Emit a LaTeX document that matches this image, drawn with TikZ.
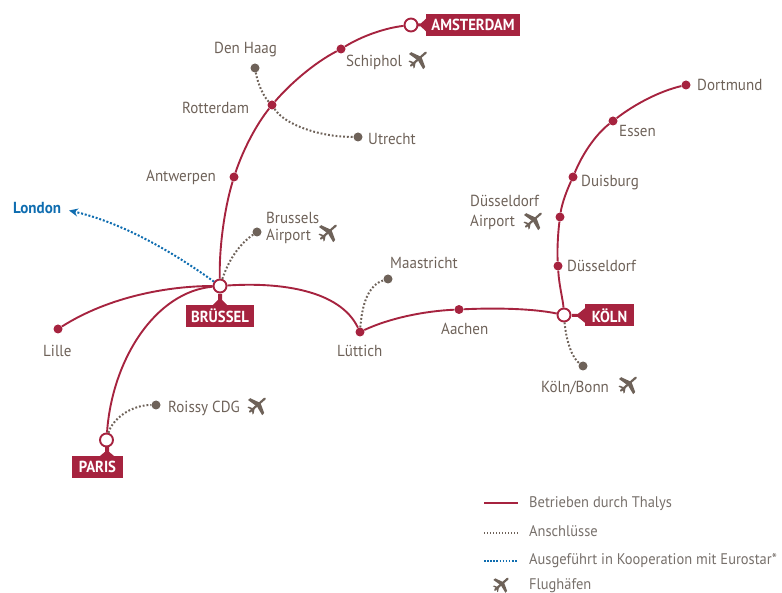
\documentclass[tikz,border=0pt]{standalone}
\usepackage{fontspec}
\setmainfont[FakeStretch=0.94]{PT Sans}
\newfontfamily\tagfont[FakeStretch=0.92]{PT Sans}
\usetikzlibrary{arrows.meta}
\definecolor{thalys}{HTML}{A6233F}
\definecolor{stone}{HTML}{6E6259}
\definecolor{legendgray}{HTML}{77706B}
\definecolor{euro}{HTML}{0F6DB0}
\tikzset{
  x=1pt,y=-1pt,
  stop/.style={circle,fill=thalys,minimum size=9pt,inner sep=0pt},
  hub/.style={circle,draw=thalys,fill=white,line width=1.9pt,minimum size=13pt,inner sep=0pt},
  feeder/.style={circle,fill=stone,minimum size=9pt,inner sep=0pt},
  mainline/.style={draw=thalys,line width=1.9pt},
  linkline/.style={draw=stone,line width=2pt,dash pattern=on 1.8pt off 2pt},
  eurolink/.style={draw=euro,line width=2pt,dash pattern=on 2pt off 1.8pt},
  place/.style={text=stone,font=\fontsize{16}{18}\selectfont,inner sep=0pt,anchor=base west,yshift=-1pt},
  tag/.style={fill=thalys,text=white,font=\tagfont\fontsize{16}{16}\selectfont\bfseries,inner sep=0pt,minimum height=22pt},
  legendtext/.style={text=legendgray,font=\fontsize{15.4}{17}\selectfont,inner sep=0pt,anchor=base west},
  jet/.pic={
    \fill[stone] (-9,-6) -- (-6.8,-7.8) -- (3.5,-3) -- (0,0.5) -- cycle;
    \fill[stone] (5.2,9.2) -- (7.2,7) -- (3.5,-3) -- (0,0.5) -- cycle;
    \fill[stone] (-9.5,1.5) -- (-8.3,0.6) -- (-3.5,2.5) -- (-4,4.5) -- cycle;
    \fill[stone] (-4.5,8.5) -- (-3.3,7.5) -- (-2.5,3) -- (-5,4.5) -- cycle;
    \draw[stone,line width=2.2pt,line cap=round] (-7,5.6) -- (7.8,-7.4);
  },
}
\begin{document}
\begin{tikzpicture}
\useasboundingbox (0,0) rectangle (782,593);
% stations
\node[hub] (ams) at (411,25) {};
\node[stop] (sch) at (341,49) {};
\node[stop] (rot) at (272,105) {};
\node[stop] (ant) at (234,177) {};
\node[hub] (bru) at (220,286) {};
\node[stop] (lil) at (58,329) {};
\node[hub] (par) at (106.5,440) {};
\node[stop] (lue) at (360,332) {};
\node[stop] (aac) at (459,309.5) {};
\node[hub] (koe) at (564,315) {};
\node[stop] (dus) at (558,266) {};
\node[stop] (dua) at (560,217) {};
\node[stop] (dui) at (573,177) {};
\node[stop] (ess) at (613,121) {};
\node[stop] (dor) at (686,85) {};
\node[feeder] (hag) at (255,68) {};
\node[feeder] (utr) at (358,137) {};
\node[feeder] (bap) at (257,232) {};
\node[feeder] (maa) at (388,279) {};
\node[feeder] (kbn) at (583,366) {};
\node[feeder] (cdg) at (156,405) {};
\coordinate (lon) at (69,210.5);
% main lines
\path[mainline] (bru) .. controls (219,250) and (224,210) .. (ant);
\path[mainline] (ant) .. controls (243,150) and (256,125) .. (rot);
\path[mainline] (rot) .. controls (290,84) and (314,63) .. (sch);
\path[mainline] (sch) .. controls (362,36) and (385,28) .. (ams);
\path[mainline] (bru) .. controls (170,286) and (110,296) .. (lil);
\path[mainline] (bru) .. controls (155,292) and (112,360) .. (par);
\path[mainline] (bru) .. controls (280,282) and (340,290) .. (lue);
\path[mainline] (lue) .. controls (390,318) and (425,311) .. (aac);
\path[mainline] (aac) .. controls (490,308) and (530,308) .. (koe);
\path[mainline] (koe) .. controls (563,300) and (559,285) .. (dus);
\path[mainline] (dus) .. controls (557,250) and (558,233) .. (dua);
\path[mainline] (dua) .. controls (562,203) and (567,190) .. (dui);
\path[mainline] (dui) .. controls (582,155) and (595,135) .. (ess);
\path[mainline] (ess) .. controls (635,104) and (660,91) .. (dor);
% connections
\path[linkline] (hag) .. controls (258,85) and (264,97) .. (rot);
\path[linkline] (rot) .. controls (285,125) and (320,137) .. (utr);
\path[linkline] (bru) .. controls (228,262) and (238,245) .. (bap);
\path[linkline] (lue) .. controls (362,305) and (368,285) .. (maa);
\path[linkline] (koe) .. controls (566,340) and (572,358) .. (kbn);
\path[linkline] (par) .. controls (112,420) and (130,405) .. (cdg);
\path[eurolink,-{Stealth[length=9pt,width=8pt]}] (bru) .. controls (170,250) and (120,222) .. (lon);
% tags
\node[tag,minimum width=94pt] (tams) at (473,25) {AMSTERDAM};
\node[tag,minimum width=68pt] (tbru) at (220,316) {BRÜSSEL};
\node[tag,minimum width=49pt] (tkoe) at (609.5,315.5) {KÖLN};
\node[tag,minimum width=51pt] (tpar) at (97.5,467) {PARIS};
\fill[thalys] (tams.west) ++(1,-7) -- ++(-6,5.5) -- ++(-3,0) -- ++(0,3) -- ++(3,0) -- ++(6,5.5) -- cycle;
\fill[thalys] (tkoe.west) ++(1,-8) -- ++(-8,6.5) -- ++(-6,0) -- ++(0,3) -- ++(6,0) -- ++(8,6.5) -- cycle;
\fill[thalys] (tbru.north) ++(-8,1) -- ++(6,-6) -- ++(0,-6) -- ++(4,0) -- ++(0,6) -- ++(6,6) -- cycle;
\fill[thalys] (tpar.north) ++(1.5,1) -- ++(6,-5) -- ++(0,-5) -- ++(4,0) -- ++(0,5) -- ++(6,5) -- cycle;
% labels
\node[place] at (214,53) {Den Haag};
\node[place] at (346,66) {Schiphol};
\node[place] at (182,113) {Rotterdam};
\node[place] at (368,144) {Utrecht};
\node[place] at (146,181) {Antwerpen};
\node[place] at (266,223) {Brussels};
\node[place] at (266,239.5) {Airport};
\node[place] at (390,268) {Maastricht};
\node[place] at (43,356) {Lille};
\node[place] at (337,356) {Lüttich};
\node[place] at (441,334) {Aachen};
\node[place] at (168,412) {Roissy CDG};
\node[place] at (541,392) {Köln/Bonn};
\node[place] at (567,271) {Düsseldorf};
\node[place] at (470,206) {Düsseldorf};
\node[place] at (470,225.5) {Airport};
\node[place] at (581,186) {Duisburg};
\node[place] at (619,136) {Essen};
\node[place] at (697,90) {Dortmund};
\node[place,text=euro] at (13,213) {\textbf{London}};
% planes
\pic at (418,60) {jet};
\pic at (328,233) {jet};
\pic at (257,406) {jet};
\pic at (533,221) {jet};
\pic at (628,385) {jet};
% legend
\coordinate (la) at (484,503); \coordinate (lb) at (518,503);
\coordinate (lc) at (484,533); \coordinate (ld) at (518,533);
\coordinate (le) at (484,561); \coordinate (lf) at (518,561);
\path[mainline] (la) -- (lb);
\path[draw=stone,line width=1.3pt,dash pattern=on 1.3pt off 1.7pt] (lc) -- (ld);
\path[draw=euro,line width=1.6pt,dash pattern=on 1.6pt off 1.5pt] (le) -- (lf);
\pic[scale=0.85] at (501,585) {jet};
\node[legendtext] at (529,507) {Betrieben durch Thalys};
\node[legendtext] at (529,536) {Anschlüsse};
\node[legendtext] at (529,564) {Ausgeführt in Kooperation mit Eurostar*};
\node[legendtext] at (529,589.3) {Flughäfen};
\end{tikzpicture}
\end{document}
